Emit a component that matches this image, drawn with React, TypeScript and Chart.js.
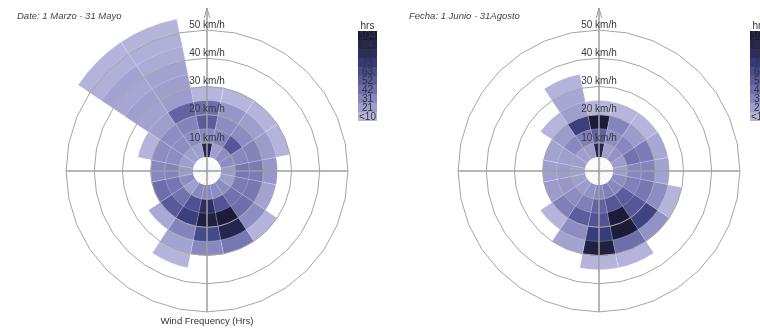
import React, { useEffect, useRef } from 'react';
import { Chart, registerables } from 'chart.js';

Chart.register(...registerables);

// Compass sectors, clockwise from north
const DIRECTIONS = ['N', 'NNE', 'NE', 'ENE', 'E', 'ESE', 'SE', 'SSE', 'S', 'SSW', 'SW', 'WSW', 'W', 'WNW', 'NW', 'NNW'];

// Calm speeds (below this) are left blank in the middle
const CALM_LIMIT = 5;
// Upper edge (km/h) of each speed bin, 5 km/h wide
const BIN_TOPS = [10, 15, 20, 25, 30, 35, 40, 45, 50, 55];
const SCALE_MAX = 55;

// Speed rings and their labels
const RING_SPEEDS = [10, 20, 30, 40, 50];
const RING_LABELS = ['10 km/h', '20 km/h', '30 km/h', '40 km/h', '50 km/h'];
const RING_SIDES = 32;

// Colour key (hours)
const LEGEND_HOURS = [104, 94, 84, 73, 63, 52, 42, 31, 21, 6];
const LEGEND_LABELS = ['104', '94', '84', '73', '63', '52', '42', '31', '21', '<10'];
const PALETTE_HOURS = [0, 10, 21, 31, 42, 52, 63, 73, 84, 94, 104];
const PALETTE_COLORS = ['#bbbbe0', '#b3b3db', '#9d9dcd', '#8686be', '#6e6ead', '#5b5c9d', '#484b8c', '#363a79', '#2c2e64', '#252650', '#1c1c3a'];

// Spring, 1 March - 31 May: hours per direction in each speed bin
const spring05 = [94, 20, 28, 28, 22, 20, 28, 28, 30, 30, 20, 28, 22, 20, 20, 20];
const spring10 = [30, 32, 55, 30, 38, 36, 40, 58, 84, 60, 40, 38, 32, 28, 28, 28];
const spring15 = [52, 28, 28, 32, 36, 38, 42, 104, 100, 70, 54, 42, 30, 28, 28, 32];
const spring20 = [42, 24, 20, 22, 24, 18, 28, 94, 64, 32, 15, 0, 0, 8, 20, 48];
const spring25 = [6, 6, 8, 10, 0, 0, 8, 38, 30, 18, 0, 0, 0, 0, 18, 22];
const spring30 = [0, 0, 0, 0, 0, 0, 0, 0, 0, 8, 0, 0, 0, 0, 20, 20];
const spring35 = [0, 0, 0, 0, 0, 0, 0, 0, 0, 0, 0, 0, 0, 0, 16, 18];
const spring40 = [0, 0, 0, 0, 0, 0, 0, 0, 0, 0, 0, 0, 0, 0, 18, 14];
const spring45 = [0, 0, 0, 0, 0, 0, 0, 0, 0, 0, 0, 0, 0, 0, 12, 12];
const spring50 = [0, 0, 0, 0, 0, 0, 0, 0, 0, 0, 0, 0, 0, 0, 10, 8];

// Summer, 1 June - 31 August
const summer05 = [94, 20, 26, 22, 20, 28, 30, 34, 30, 26, 22, 20, 18, 20, 20, 22];
const summer10 = [50, 28, 30, 40, 30, 34, 52, 55, 48, 34, 28, 24, 22, 20, 30, 34];
const summer15 = [104, 32, 22, 36, 32, 38, 55, 104, 58, 52, 34, 22, 20, 18, 22, 70];
const summer20 = [6, 6, 6, 16, 18, 28, 68, 104, 72, 28, 8, 0, 0, 0, 6, 20];
const summer25 = [0, 0, 0, 0, 0, 8, 26, 42, 100, 18, 0, 0, 0, 0, 0, 16];
const summer30 = [0, 0, 0, 0, 0, 0, 0, 10, 8, 0, 0, 0, 0, 0, 0, 10];

const SPRING_BINS = [spring05, spring10, spring15, spring20, spring25, spring30, spring35, spring40, spring45, spring50];
const SUMMER_BINS = [summer05, summer10, summer15, summer20, summer25, summer30];

const FONT = '"Liberation Sans", Arial, Helvetica, sans-serif';

function hexToRgb(hex: string) {
  const n = parseInt(hex.slice(1), 16);
  return [(n >> 16) & 255, (n >> 8) & 255, n & 255];
}

function hoursColor(h: number): string {
  const last = PALETTE_HOURS.length - 1;
  if (h >= PALETTE_HOURS[last]) return PALETTE_COLORS[last];
  for (let i = 1; i <= last; i++) {
    if (h <= PALETTE_HOURS[i]) {
      const t = (h - PALETTE_HOURS[i - 1]) / (PALETTE_HOURS[i] - PALETTE_HOURS[i - 1]);
      const a = hexToRgb(PALETTE_COLORS[i - 1]);
      const b = hexToRgb(PALETTE_COLORS[i]);
      const c = a.map((v, k) => Math.round(v + (b[k] - v) * t));
      return `rgb(${c[0]},${c[1]},${c[2]})`;
    }
  }
  return PALETTE_COLORS[0];
}

// Speed bins are stacked by painting the widest wedges first; dataset 0
// (the calm disc) is painted last and sits on top.
function buildDatasets(bins: number[][]) {
  const sets: any[] = [
    {
      data: DIRECTIONS.map(() => CALM_LIMIT),
      backgroundColor: '#ffffff',
      borderWidth: 0,
    },
  ];
  bins.forEach((hours, i) => {
    sets.push({
      data: hours.map((h) => (h > 0 ? BIN_TOPS[i] : 0)),
      backgroundColor: hours.map((h) => (h > 0 ? hoursColor(h) : 'rgba(0,0,0,0)')),
      borderColor: 'rgba(255,255,255,0.35)',
      borderWidth: 0.6,
    });
  });
  return sets;
}

// Rings, compass cross with north arrow, and speed labels over the wedges
const roseOverlay = {
  id: 'roseOverlay',
  afterDatasetsDraw(chart: any) {
    const s = chart.scales.r;
    const ctx = chart.ctx as CanvasRenderingContext2D;
    const cx = s.xCenter;
    const cy = s.yCenter;
    const outer = s.getDistanceFromCenterForValue(RING_SPEEDS[RING_SPEEDS.length - 1]);
    ctx.save();
    ctx.strokeStyle = '#a4a4a4';
    ctx.lineWidth = 1;
    RING_SPEEDS.forEach((v) => {
      const r = s.getDistanceFromCenterForValue(v);
      ctx.beginPath();
      for (let k = 0; k < RING_SIDES; k++) {
        const a = (k / RING_SIDES) * Math.PI * 2;
        const x = cx + r * Math.sin(a);
        const y = cy - r * Math.cos(a);
        if (k === 0) ctx.moveTo(x, y);
        else ctx.lineTo(x, y);
      }
      ctx.closePath();
      ctx.stroke();
    });

    ctx.strokeStyle = '#9e9e9e';
    ctx.lineWidth = 1.5;
    ctx.beginPath();
    ctx.moveTo(cx - outer, cy);
    ctx.lineTo(cx + outer, cy);
    ctx.moveTo(cx, cy + outer);
    ctx.lineTo(cx, cy - outer - 22);
    ctx.stroke();

    ctx.lineWidth = 1;
    ctx.beginPath();
    ctx.moveTo(cx - 2.8, cy - outer - 12);
    ctx.lineTo(cx, cy - outer - 22);
    ctx.lineTo(cx + 2.8, cy - outer - 12);
    ctx.stroke();

    ctx.font = `10px ${FONT}`;
    ctx.fillStyle = '#3a3a3a';
    ctx.textAlign = 'center';
    ctx.textBaseline = 'middle';
    RING_SPEEDS.forEach((v, i) => {
      const r = s.getDistanceFromCenterForValue(v);
      ctx.fillText(RING_LABELS[i], cx, cy - r - 5);
    });
    ctx.restore();
  },
};

function RoseChart({ bins }: { bins: number[][] }) {
  const ref = useRef<HTMLCanvasElement | null>(null);
  useEffect(() => {
    if (!ref.current) return;
    const chart = new Chart(ref.current, {
      type: 'polarArea',
      data: { labels: DIRECTIONS, datasets: buildDatasets(bins) },
      options: {
        responsive: false,
        animation: false,
        events: [],
        layout: { padding: { left: 52, right: 30, top: 16, bottom: 5 } },
        plugins: { legend: { display: false }, tooltip: { enabled: false } },
        scales: {
          r: {
            min: 0,
            max: SCALE_MAX,
            startAngle: -360 / DIRECTIONS.length / 2,
            grid: { display: false },
            angleLines: { display: false },
            ticks: { display: false },
            pointLabels: { display: false },
          },
        },
      } as any,
      plugins: [roseOverlay],
    });
    return () => chart.destroy();
  }, [bins]);
  return <canvas ref={ref} width={392} height={331} style={{ position: 'absolute', left: 0, top: 0 }} />;
}

function ColourKey() {
  return (
    <div style={{ position: 'absolute', left: 358, top: 20, width: 19, fontFamily: FONT, fontSize: 10, color: '#333' }}>
      <div style={{ height: 11, lineHeight: '11px', textAlign: 'center' }}>hrs</div>
      {LEGEND_HOURS.map((h, i) => (
        <div
          key={i}
          style={{
            height: 9,
            lineHeight: '9px',
            background: hoursColor(h),
            textAlign: 'center',
            whiteSpace: 'nowrap',
            overflow: 'visible',
          }}
        >
          {LEGEND_LABELS[i]}
        </div>
      ))}
    </div>
  );
}

function Panel({ left, title, bins, caption }: { left: number; title: string; bins: number[][]; caption?: string }) {
  return (
    <div style={{ position: 'absolute', left, top: 0, width: 392, height: 331 }}>
      <RoseChart bins={bins} />
      <div
        style={{
          position: 'absolute',
          left: 17,
          top: 10,
          fontFamily: FONT,
          fontStyle: 'italic',
          fontSize: 9.5,
          lineHeight: '12px',
          color: '#444',
          whiteSpace: 'nowrap',
        }}
      >
        {title}
      </div>
      <ColourKey />
      {caption && (
        <div
          style={{
            position: 'absolute',
            left: 107,
            width: 200,
            top: 315,
            textAlign: 'center',
            fontFamily: FONT,
            fontSize: 9.5,
            lineHeight: '12px',
            color: '#333',
          }}
        >
          {caption}
        </div>
      )}
    </div>
  );
}

export default function App() {
  return (
    <div style={{ position: 'absolute', left: 0, top: 0, width: 760, height: 331, overflow: 'hidden', background: '#fff' }}>
      <Panel left={0} title="Date: 1 Marzo - 31 Mayo" bins={SPRING_BINS} caption="Wind Frequency (Hrs)" />
      <Panel left={392} title="Fecha: 1 Junio - 31Agosto" bins={SUMMER_BINS} />
    </div>
  );
}
